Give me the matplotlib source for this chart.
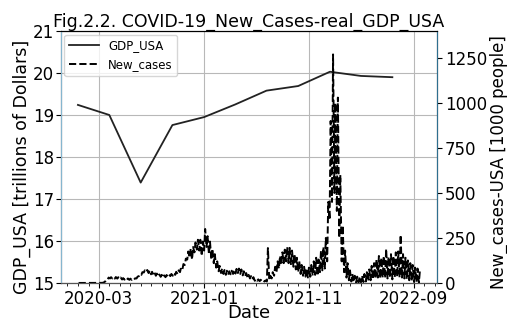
import numpy as np
import pandas as pd
import matplotlib
matplotlib.use('Agg')
import matplotlib.pyplot as plt
import matplotlib.dates as mdates

# quarterly real GDP, trillions of dollars
gdp_dates = ['2020-01-01', '2020-04-01', '2020-07-01', '2020-10-01', '2021-01-01', '2021-04-01',
             '2021-07-01', '2021-10-01', '2022-01-01', '2022-04-01', '2022-07-01']
gdp_values = [19.24, 19.00, 17.39, 18.76, 18.95, 19.25, 19.58, 19.69, 20.03, 19.93, 19.90]

# weekly new cases (thousands): weekly low and weekly high, weeks starting 2020-01-03
week_start = '2020-01-03'
cases_low = [0, 0, 0, 0, 0, 0, 0, 0, 0, 0.2, 1, 8, 18, 25, 25, 24, 24, 22, 19, 18,
             18, 17, 17, 19, 25, 38, 45, 58, 60, 55, 48, 45, 40, 36, 34, 30, 32, 36, 38, 40,
             45, 50, 60, 75, 100, 130, 140, 130, 170, 185, 180, 150, 180, 200, 160, 130, 110, 85, 65, 55,
             50, 45, 45, 48, 50, 52, 55, 50, 42, 38, 30, 25, 20, 12, 12, 10, 9, 8, 8, 15,
             25, 40, 60, 80, 100, 110, 120, 110, 100, 90, 75, 60, 50, 40, 35, 30, 35, 40, 45, 40,
             60, 70, 80, 120, 350, 450, 500, 400, 250, 120, 60, 30, 15, 8, 5, 3, 3, 4, 5, 8,
             10, 15, 20, 25, 30, 25, 30, 28, 25, 28, 20, 30, 35, 30, 30, 25, 20, 15, 10, 5,
             5, 3]
cases_high = [0, 0, 0, 0, 0, 0, 0, 0, 0, 0.5, 3, 18, 30, 32, 33, 33, 32, 30, 27, 26,
              25, 24, 24, 26, 35, 50, 60, 70, 72, 70, 62, 58, 52, 47, 45, 42, 44, 48, 50, 55,
              62, 70, 85, 105, 135, 175, 190, 200, 225, 240, 240, 230, 300, 260, 230, 190, 160, 120, 95, 80,
              72, 68, 65, 68, 72, 78, 80, 75, 65, 55, 45, 38, 32, 22, 20, 18, 15, 14, 194, 40,
              60, 90, 120, 150, 170, 185, 200, 195, 180, 160, 140, 120, 100, 90, 80, 85, 100, 120, 140, 130,
              180, 200, 250, 450, 900, 1270, 1000, 1030, 600, 320, 180, 110, 70, 50, 40, 35, 35, 40, 50, 60,
              75, 95, 110, 130, 150, 140, 150, 190, 145, 160, 150, 170, 175, 267, 160, 140, 125, 110, 100, 85,
              80, 70]

weeks = pd.date_range(week_start, periods=len(cases_low), freq='7D')
case_dates = []
case_values = []
for w, lo, hi in zip(weeks, cases_low, cases_high):
    case_dates += [w, w + pd.Timedelta(days=3)]
    case_values += [lo, hi]

xtick_labels = ['2020-03', '2021-01', '2021-11', '2022-09']

fig = plt.figure(figsize=(5.07, 3.23), dpi=100)
ax1 = fig.add_axes([0.120, 0.124, 0.742, 0.780])
ax2 = ax1.twinx()

l1, = ax1.plot(pd.to_datetime(gdp_dates), gdp_values, color='#222222', lw=1.3, label='GDP_USA')
l2, = ax2.plot(case_dates, case_values, color='black', ls='--', lw=1.4, label='New_cases')

ax1.set_ylim(15, 21)
ax2.set_ylim(0, 1400)
ax2.set_yticks([0, 250, 500, 750, 1000, 1250])

ax1.set_xticks(pd.to_datetime(xtick_labels))
ax1.set_xticklabels(xtick_labels)
ax1.xaxis.set_minor_locator(mdates.MonthLocator())
ax1.grid(True, color='#b8b8b8', lw=0.8)

ax1.tick_params(labelsize=12, pad=1.5)
ax2.tick_params(labelsize=12, pad=2)
ax1.set_title('Fig.2.2. COVID-19_New_Cases-real_GDP_USA', fontsize=12.5, pad=2)
ax1.set_xlabel('Date', fontsize=13, labelpad=-3)
ax1.set_ylabel('GDP_USA [trillions of Dollars]', fontsize=12.5, labelpad=1)
ax2.set_ylabel('New_cases-USA [1000 people]', fontsize=12, labelpad=2)
ax1.yaxis.label.set_y(0.46)
ax2.yaxis.label.set_y(0.48)

ax2.spines['left'].set_color('#86b6cf')
ax2.spines['right'].set_color('#2f6f8f')
ax2.spines['bottom'].set_color('#555555')

ax1.legend([l1, l2], ['GDP_USA', 'New_cases'], loc='upper left', fontsize=8.5,
           handlelength=2.5, borderaxespad=0.3)

fig.savefig('out.png', dpi=100)
